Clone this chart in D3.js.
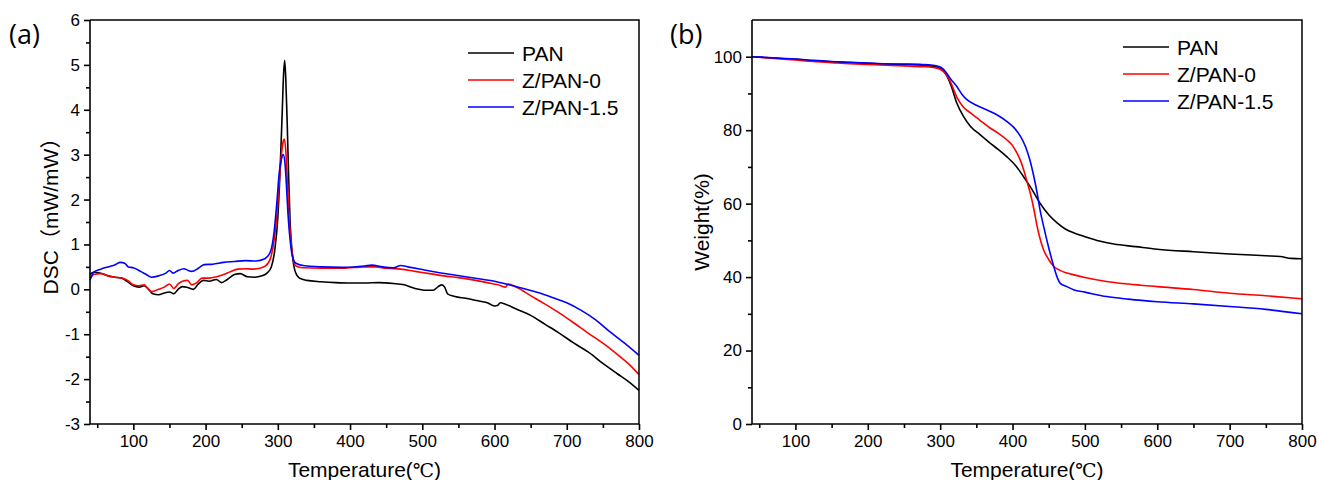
<!DOCTYPE html>
<html>
<head>
<meta charset="utf-8">
<script src="https://cdn.jsdelivr.net/npm/d3@7"></script>
<style>
    body { margin: 0; background: #fff; }
    svg { display: block; }
    text { font-family: 'Liberation Sans', Arial, sans-serif; fill: #000; }
</style>
</head>
<body>
<svg id="chart" width="1317" height="480"></svg>
<script>

// series names and colours
const seriesNames = ['PAN', 'Z/PAN-0', 'Z/PAN-1.5'];
const seriesColors = ['#000000', '#ff0000', '#0000ff'];

// (a) DSC curves, [temperature, mW/mW]
const dscPAN = [
    [40,0.33],[45,0.38],[55,0.36],[65,0.3],[75,0.27],[85,0.24],[92,0.17],[100,0.08],[108,0.05],[115,0.08],
    [120,0.02],[127,-0.1],[135,-0.12],[143,-0.08],[150,-0.06],[156,-0.1],[162,0.0],[168,0.06],[175,0.04],
    [183,0.0],[190,0.12],[197,0.2],[205,0.18],[215,0.22],[222,0.15],[230,0.22],[240,0.33],[248,0.35],
    [258,0.28],[268,0.27],[278,0.3],[285,0.36],[291,0.5],[296,0.9],[300,1.6],[303,2.6],[306,3.9],[308,4.8],
    [309.5,5.1],[311,4.7],[313,3.7],[315,2.5],[317,1.5],[320,0.8],[324,0.4],[330,0.25],[340,0.2],[360,0.17],
    [380,0.15],[400,0.14],[420,0.14],[440,0.15],[460,0.13],[475,0.1],[490,0.02],[505,-0.02],[515,-0.02],
    [522,0.06],[527,0.1],[531,0.05],[535,-0.1],[545,-0.16],[560,-0.2],[575,-0.25],[590,-0.3],[600,-0.37],
    [604,-0.36],[608,-0.3],[615,-0.33],[630,-0.44],[650,-0.58],[670,-0.78],[690,-0.98],[710,-1.2],
    [730,-1.4],[750,-1.65],[770,-1.88],[785,-2.05],[800,-2.25]
];
const dscZ0 = [
    [40,0.25],[45,0.33],[55,0.35],[65,0.3],[75,0.27],[85,0.25],[92,0.2],[100,0.1],[108,0.08],[115,0.1],
    [120,0.02],[125,-0.05],[135,0.0],[143,0.05],[150,0.12],[156,0.02],[162,0.12],[168,0.18],[175,0.2],
    [181,0.1],[188,0.15],[195,0.25],[205,0.25],[215,0.28],[225,0.33],[235,0.4],[245,0.45],[255,0.46],
    [265,0.45],[275,0.47],[283,0.52],[290,0.7],[295,1.1],[299,1.7],[302,2.4],[305,3.0],[307.5,3.3],
    [309,3.35],[311,3.1],[313,2.5],[315,1.8],[318,1.1],[321,0.7],[325,0.52],[335,0.48],[360,0.47],
    [390,0.47],[420,0.5],[435,0.5],[450,0.47],[470,0.45],[490,0.4],[510,0.35],[530,0.3],[550,0.26],
    [570,0.21],[590,0.15],[605,0.1],[615,0.05],[619,0.12],[630,0.05],[650,-0.14],[670,-0.33],[690,-0.53],
    [710,-0.75],[730,-0.98],[750,-1.2],[770,-1.45],[785,-1.65],[800,-1.9]
];
const dscZ15 = [
    [40,0.2],[45,0.38],[55,0.45],[65,0.5],[75,0.55],[82,0.6],[88,0.58],[93,0.5],[100,0.48],[110,0.4],
    [118,0.33],[125,0.27],[135,0.3],[145,0.36],[150,0.42],[155,0.36],[162,0.42],[170,0.46],[176,0.42],
    [181,0.4],[190,0.47],[198,0.55],[210,0.56],[225,0.6],[240,0.62],[255,0.64],[270,0.63],[282,0.68],
    [290,0.85],[295,1.3],[299,2.0],[302,2.6],[305,2.9],[307.5,3.0],[310,2.8],[312,2.3],[314,1.7],
    [317,1.1],[320,0.75],[325,0.58],[335,0.53],[360,0.5],[390,0.49],[420,0.52],[430,0.54],[445,0.5],
    [460,0.48],[470,0.53],[480,0.5],[500,0.44],[520,0.38],[540,0.33],[560,0.28],[580,0.23],[600,0.18],
    [620,0.1],[640,0.02],[660,-0.07],[680,-0.18],[700,-0.3],[720,-0.47],[740,-0.68],[760,-0.95],
    [780,-1.2],[800,-1.47]
];

// (b) TGA curves, [temperature, weight %]
const tgaPAN = [
    [40,100],[60,99.8],[80,99.5],[100,99.3],[125,98.9],[150,98.6],[175,98.4],[200,98.2],[225,98.0],
    [250,97.9],[275,97.7],[290,97.4],[300,96.8],[308,95.2],[315,92.2],[323,87.4],[332,83.8],[342,81],
    [355,78.8],[369,76.5],[380,74.8],[392,72.8],[405,70.2],[415,67.4],[427,63.8],[438,60.1],[450,57],
    [462,54.7],[473,53.1],[485,52],[500,51],[520,49.8],[540,49],[570,48.3],[600,47.6],[650,46.9],
    [700,46.3],[750,45.8],[770,45.6],[785,45.1],[800,45.0]
];
const tgaZ0 = [
    [40,100],[60,99.7],[80,99.4],[100,99.1],[125,98.7],[150,98.4],[175,98.1],[200,97.9],[225,97.7],
    [250,97.5],[275,97.3],[290,97.1],[300,96.6],[308,95.3],[315,92.8],[323,89.0],[332,86.3],[342,84.7],
    [355,82.7],[369,80.6],[380,79.2],[392,77.4],[400,75.8],[406,73.8],[411,71.7],[416,68.8],[420,66.0],
    [425,62.5],[430,58],[434,53.8],[438,50.5],[443,47.4],[450,44.8],[457,42.9],[465,41.9],[475,41.1],
    [485,40.6],[500,39.9],[530,38.8],[560,38.1],[600,37.4],[650,36.6],[700,35.6],[750,34.9],[800,34.1]
];
const tgaZ15 = [
    [40,100],[60,99.8],[80,99.6],[100,99.4],[125,99.0],[150,98.7],[175,98.5],[200,98.3],[225,98.1],
    [250,98.0],[275,97.9],[290,97.7],[300,97.2],[305,96.5],[309,95.5],[315,93.8],[323,91.9],[330,89.8],
    [337,88.3],[350,86.8],[369,85.1],[380,84],[392,82.4],[402,80.7],[411,78.3],[418,75.5],[424,71.9],
    [429,67.8],[434,62.9],[438,58.3],[443,53.8],[450,48],[457,42.9],[462,39.8],[466,38.3],[475,37.4],
    [485,36.5],[500,35.9],[530,34.7],[560,34.0],[600,33.3],[650,32.7],[700,32.0],[750,31.2],[800,30.0]
];

// ticks
const xMajor = [100, 200, 300, 400, 500, 600, 700, 800];
const xMinor = [50, 150, 250, 350, 450, 550, 650, 750];
const dscMajor = [-3, -2, -1, 0, 1, 2, 3, 4, 5, 6];
const dscMinor = [-2.5, -1.5, -0.5, 0.5, 1.5, 2.5, 3.5, 4.5, 5.5];
const tgaMajor = [0, 20, 40, 60, 80, 100];
const tgaMinor = [10, 30, 50, 70, 90];

const svg = d3.select('#chart');

// plain hyphen for negatives, like the original
const fmt = v => String(v);

function panel (opt) {

    const g = svg.append('g');

    const x = d3.scaleLinear().domain([40, 800]).range([opt.left, opt.right]);
    const y = d3.scaleLinear().domain(opt.yDomain).range([424, 20]);

    const line = d3.line()
        .x(d => x(d[0]))
        .y(d => y(d[1]))
        .curve(d3.curveMonotoneX);

    g.selectAll('path.curve')
        .data(opt.series)
        .enter()
        .append('path')
        .attr('class', 'curve')
        .attr('d', line)
        .attr('fill', 'none')
        .attr('stroke', (d, i) => seriesColors[i])
        .attr('stroke-width', 1.6)
        .attr('stroke-linejoin', 'round');

    // frame (top + right)
    g.append('path')
        .attr('d', `M${opt.left},20H${opt.right}V424`)
        .attr('fill', 'none')
        .attr('stroke', '#000')
        .attr('stroke-width', 1.5);

    // x axis
    const xa = g.append('g')
        .attr('transform', 'translate(0,424)')
        .call(d3.axisBottom(x).tickValues(xMajor).tickFormat(fmt).tickSize(6).tickSizeOuter(0).tickPadding(5));
    g.append('g')
        .attr('transform', 'translate(0,424)')
        .call(d3.axisBottom(x).tickValues(xMinor).tickSize(4).tickSizeOuter(0).tickFormat(''))
        .select('.domain').remove();

    // y axis
    const ya = g.append('g')
        .attr('transform', `translate(${opt.left},0)`)
        .call(d3.axisLeft(y).tickValues(opt.yMajor).tickFormat(fmt).tickSize(6).tickSizeOuter(0).tickPadding(4));
    g.append('g')
        .attr('transform', `translate(${opt.left},0)`)
        .call(d3.axisLeft(y).tickValues(opt.yMinor).tickSize(4).tickSizeOuter(0).tickFormat(''))
        .select('.domain').remove();

    g.selectAll('.domain, .tick line')
        .attr('stroke', '#000')
        .attr('stroke-width', 1.6);
    g.selectAll('.tick text')
        .attr('font-family', "'Liberation Sans', Arial, sans-serif")
        .attr('font-size', 17)
        .attr('fill', '#000');
    xa.select('.domain').attr('d', `M${opt.left},0H${opt.right}`);
    ya.select('.domain').attr('d', `M0,20V424`);

    // axis titles
    const xt = g.append('text')
        .attr('x', (opt.left + opt.right) / 2)
        .attr('y', 477)
        .attr('text-anchor', 'middle')
        .attr('font-size', 21);
    xt.append('tspan').text('Temperature(');
    xt.append('tspan')
        .style('font-family', "'DejaVu Serif', 'Liberation Serif', serif")
        .attr('font-size', 19)
        .text('℃');
    xt.append('tspan').text(')');

    g.append('text')
        .attr('transform', `translate(${opt.titleX},${opt.titleY}) rotate(-90)`)
        .attr('text-anchor', 'middle')
        .attr('font-size', 21)
        .style('font-family', "'Liberation Sans', Arial, 'Noto Sans CJK SC', sans-serif")
        .text(opt.yTitle);

    // panel tag
    g.append('text')
        .attr('x', opt.tagX)
        .attr('y', 44)
        .attr('font-size', 27)
        .style('font-family', "'Open Sans', 'Noto Sans', sans-serif")
        .text(opt.tag);

    // legend
    const lg = g.append('g')
        .selectAll('g')
        .data(seriesNames)
        .enter()
        .append('g')
        .attr('transform', (d, i) => `translate(${opt.legendX},${opt.legendY + i * 27})`);
    lg.append('line')
        .attr('x1', 0).attr('x2', 46)
        .attr('stroke', (d, i) => seriesColors[i])
        .attr('stroke-width', 1.6);
    lg.append('text')
        .attr('x', 54)
        .attr('y', 7.5)
        .attr('font-size', 21)
        .text(d => d);
}

panel({
    left: 90, right: 639,
    yDomain: [-3, 6], yMajor: dscMajor, yMinor: dscMinor,
    series: [dscPAN, dscZ0, dscZ15],
    yTitle: 'DSC（mW/mW）', titleX: 58, titleY: 211,
    tag: '(a)', tagX: 9,
    legendX: 468, legendY: 53
});

panel({
    left: 752, right: 1302,
    yDomain: [0, 110], yMajor: tgaMajor, yMinor: tgaMinor,
    series: [tgaPAN, tgaZ0, tgaZ15],
    yTitle: 'Weight(%)', titleX: 709, titleY: 222,
    tag: '(b)', tagX: 670,
    legendX: 1123, legendY: 47
});

</script>
</body>
</html>
